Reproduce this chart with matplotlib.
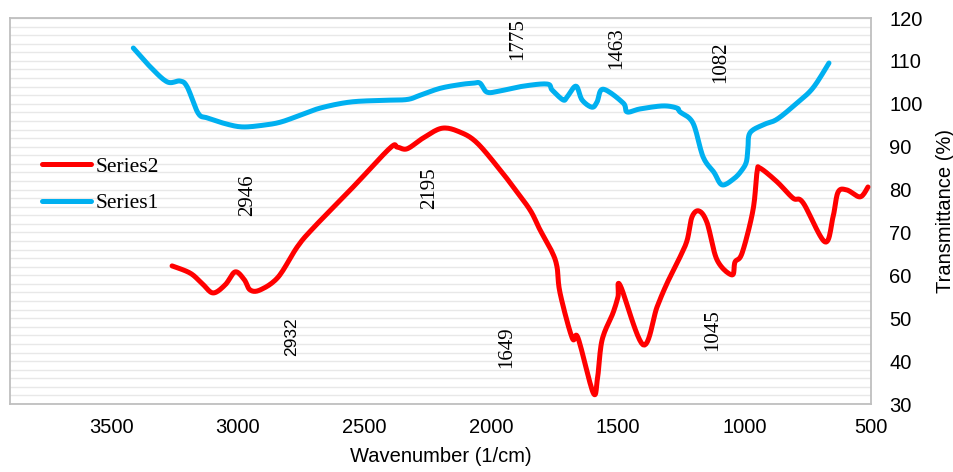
import matplotlib
matplotlib.use("Agg")
import matplotlib.pyplot as plt
import numpy as np

# Series1 (blue) wavenumber / transmittance
s1_x = [3413, 3346, 3279, 3228, 3200, 3157, 3121, 3040, 2979, 2900, 2833, 2760, 2675, 2557, 2427,
        2332, 2280, 2202, 2120, 2071, 2044, 2016, 1965, 1874, 1779, 1759, 1716, 1700, 1665,
        1641, 1602, 1582, 1558, 1479, 1463, 1412, 1321, 1266, 1254, 1203, 1163, 1120, 1088,
        1040, 1009, 992, 986, 978, 926, 871, 792, 729, 666]
s1_y = [113.0, 108.6, 105.1, 105.3, 103.9, 97.8, 96.7, 95.2, 94.6, 95.0, 95.7, 97.2, 99.0, 100.4, 100.8,
        101.0, 102.0, 103.6, 104.5, 104.8, 104.8, 102.7, 103.0, 104.1, 104.6, 103.2, 100.9, 101.6, 104.1,
        100.9, 99.2, 100.4, 103.4, 100.2, 98.1, 98.8, 99.5, 99.0, 98.1, 95.5, 87.6, 84.0, 81.1,
        82.6, 84.6, 86.5, 89.5, 93.2, 95.1, 96.4, 100.2, 103.7, 109.5]

# Series2 (red)
s2_x = [3260, 3188, 3140, 3098, 3050, 3011, 2975, 2952, 2912, 2841, 2766, 2703, 2545, 2399, 2371,
        2332, 2269, 2194, 2123, 2056, 1965, 1913, 1846, 1807, 1760, 1740, 1728, 1680, 1657,
        1597, 1580, 1562, 1519, 1499, 1490, 1400, 1345, 1305, 1254, 1226, 1207, 1179, 1147,
        1108, 1049, 1037, 1009, 966, 950, 938, 871, 808, 768, 682, 650, 630, 595, 543, 512]
s2_y = [62.2, 60.5, 58.0, 55.9, 57.8, 60.8, 59.0, 56.6, 56.6, 59.6, 66.6, 71.0, 80.6, 89.7, 89.9,
        89.5, 92.0, 94.3, 93.4, 90.9, 84.6, 80.6, 75.2, 70.6, 65.5, 62.0, 55.9, 45.4, 45.4,
        32.6, 36.0, 44.9, 51.2, 55.0, 57.6, 43.8, 52.6, 58.2, 64.3, 68.2, 73.6, 75.0, 72.2,
        63.6, 60.1, 63.1, 65.2, 75.2, 84.1, 85.0, 81.8, 78.0, 76.9, 67.8, 73.6, 79.4, 79.9, 78.3, 80.6]

# peak annotations
ann_text = ["2946", "2195", "1775", "1463", "1082", "2932", "1649", "1045"]
ann_x = [2960, 2241, 1894, 1503, 1092, 2786, 1937, 1124]
ann_y = [78.7, 80.4, 115.1, 113.0, 109.7, 45.6, 43.3, 47.3]
ann_serif = [True, True, True, True, True, False, True, True]

x_ticks = [3500, 3000, 2500, 2000, 1500, 1000, 500]
y_ticks = [30, 40, 50, 60, 70, 80, 90, 100, 110, 120]

SANS = "Liberation Sans"
SERIF = "Liberation Serif"


def smooth_path(xs, ys, n=12):
    """Excel-like smoothed line rendering (Catmull-Rom through the given points)."""
    p = np.column_stack([xs, ys]).astype(float)
    p = np.vstack([p[0], p, p[-1]])
    out = []
    t = np.linspace(0, 1, n, endpoint=False)[:, None]
    for i in range(1, len(p) - 2):
        p0, p1, p2, p3 = p[i - 1], p[i], p[i + 1], p[i + 2]
        seg = 0.5 * ((2 * p1) + (-p0 + p2) * t + (2 * p0 - 5 * p1 + 4 * p2 - p3) * t ** 2
                     + (-p0 + 3 * p1 - 3 * p2 + p3) * t ** 3)
        out.append(seg)
    out.append(p[-2][None, :])
    out = np.vstack(out)
    return out[:, 0], out[:, 1]


fig = plt.figure(figsize=(9.54, 4.72), dpi=100)
ax = fig.add_axes([10/954, 1-404/472, 861/954, 386/472])

red = "#ff0000"
blue = "#00b0f0"
rx, ry = smooth_path(s2_x, s2_y)
bx, by = smooth_path(s1_x, s1_y)
ax.plot(rx, ry, color=red, lw=3.6, solid_capstyle="round", solid_joinstyle="round", label="Series2", zorder=3)
ax.plot(bx, by, color=blue, lw=3.6, solid_capstyle="round", solid_joinstyle="round", label="Series1", zorder=3)

ax.set_xlim(3900, 500)
ax.set_ylim(30, 120)
ax.set_xticks(x_ticks)
ax.set_yticks(y_ticks)
ax.set_yticks(np.arange(30, 121, 2), minor=True)
ax.grid(True, which="both", axis="y", color="#e8e8e8", lw=1.0, zorder=0)
ax.tick_params(which="both", length=0)
ax.yaxis.tick_right()
ax.yaxis.set_label_position("right")
ax.tick_params(axis="x", pad=10, labelsize=14.5)
ax.tick_params(axis="y", pad=13, labelsize=14.5)
for lab in ax.get_xticklabels() + ax.get_yticklabels():
    lab.set_fontfamily(SANS)

for sp in ax.spines.values():
    sp.set_color("#bfbfbf")
    sp.set_linewidth(1.3)

ax.set_xlabel("Wavenumber (1/cm)", fontsize=14.5, fontfamily=SANS, labelpad=7)
ax.set_ylabel("Transmittance (%)", fontsize=14.5, fontfamily=SANS, labelpad=10)

for t, x, y, serif in zip(ann_text, ann_x, ann_y, ann_serif):
    ax.text(x, y, t, rotation=90, ha="center", va="center",
            fontsize=15 if serif else 12.5, fontfamily=SERIF if serif else SANS, zorder=4)

leg = ax.legend(loc="upper left", bbox_to_anchor=(0.037, 0.64), frameon=False,
                prop={"family": SERIF, "size": 15.5}, handlelength=2.3,
                handletextpad=0.2, labelspacing=0.75, borderpad=0, borderaxespad=0)

fig.savefig("out.png", dpi=100)
